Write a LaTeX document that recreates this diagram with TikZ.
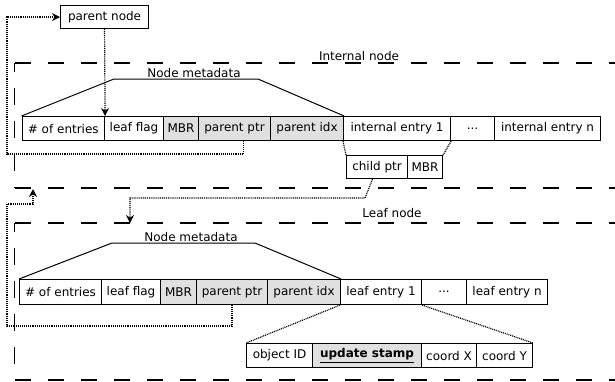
\documentclass[tikz,border=0pt]{standalone}
\usepackage{fontspec}
\setmainfont{DejaVu Sans}
\usetikzlibrary{arrows.meta,calc}
\definecolor{cellgray}{RGB}{224,224,224}
\begin{document}
\begin{tikzpicture}[x=1pt,y=-1pt,
  txt/.style={font=\fontsize{12}{14}\selectfont},
  cell/.style={txt,draw,line width=1.1pt,anchor=north west,inner sep=0pt,minimum height=24pt},
  shaded/.style={cell,fill=cellgray},
  region/.style={line width=1.4pt,dash pattern=on 16.5pt off 16.5pt},
  outline/.style={line width=1pt},
  ptr/.style={line width=1.2pt,dash pattern=on 1pt off 0.9pt,-{Stealth[length=8pt,width=8pt]}},
  expand/.style={line width=1.2pt,dash pattern=on 1pt off 0.9pt}]
\useasboundingbox (0,0) rectangle (615,381);

% dashed region outlines
\draw[region] (14.5,63) -- (625,63);
\draw[region,dash phase=8] (14.5,63) -- (14.5,188);
\draw[region] (14.5,188) -- (625,188);
\draw[region] (14.5,223) -- (625,223);
\draw[region,dash phase=8] (14.5,223) -- (14.5,380);
\draw[region] (14.5,380) -- (625,380);
\node[txt,anchor=base] (intlabel) at (359,60) {Internal node};
\node[txt,anchor=base] (leaflabel) at (392,217) {Leaf node};

% parent node
\node[cell,minimum width=88pt,minimum height=23pt] (pn) at (60,5) {parent node};

% internal node layout
\node[cell,minimum width=82.5pt] (n1) at (21.5,116) {\# of entries};
\node[cell,minimum width=59pt] (n2) at (104,116) {leaf flag};
\node[shaded,minimum width=35pt] (n3) at (163,116) {MBR};
\node[shaded,minimum width=72pt] (n4) at (198,116) {parent ptr};
\node[shaded,minimum width=73pt] (n5) at (270,116) {parent idx};
\node[cell,minimum width=107pt] (n6) at (343,116) {internal entry 1};
\node[cell,minimum width=44pt] (n7) at (450,116) {...};
\node[cell,minimum width=106pt] (n8) at (494,116) {internal entry n};

\draw[outline] (n1.north west) -- (114,79) -- (258,79) -- (n5.north east);
\node[txt,anchor=base] (meta1) at (194,77) {Node metadata};

% internal entry layout
\node[cell,minimum width=61pt,minimum height=23pt] (c1) at (346,155) {child ptr};
\node[cell,minimum width=35pt,minimum height=23pt] (c2) at (407,155) {MBR};
\draw[expand] (n6.south west) -- (c1.north west);
\draw[expand] (n6.south east) -- (c2.north east);

% leaf node layout
\node[cell,minimum width=82pt,minimum height=25pt] (l1) at (19,279) {\# of entries};
\node[cell,minimum width=59pt,minimum height=25pt] (l2) at (101,279) {leaf flag};
\node[shaded,minimum width=36pt,minimum height=25pt] (l3) at (160,279) {MBR};
\node[shaded,minimum width=71pt,minimum height=25pt] (l4) at (196,279) {parent ptr};
\node[shaded,minimum width=73pt,minimum height=25pt] (l5) at (267,279) {parent idx};
\node[cell,minimum width=81pt,minimum height=25pt] (l6) at (340,279) {leaf entry 1};
\node[cell,minimum width=45pt,minimum height=25pt] (l7) at (421,279) {...};
\node[cell,minimum width=81pt,minimum height=25pt] (l8) at (466,279) {leaf entry n};

\draw[outline] (l1.north west) -- (112,243) -- (255,243) -- (l5.north east);
\node[txt,anchor=base] (meta2) at (191,241) {Node metadata};

% leaf entry layout
\node[cell,minimum width=66pt] (o1) at (246,343) {object ID};
\node[shaded,minimum width=109pt] (o2) at (312,343) {\underline{\textbf{update stamp}}};
\node[cell,minimum width=55pt] (o3) at (421,343) {coord X};
\node[cell,minimum width=56pt] (o4) at (476,343) {coord Y};
\draw[expand] (l6.south west) -- (o1.north west);
\draw[expand] (l6.south east) -- (o4.north east);

% pointers
\coordinate (ipp) at ([xshift=9pt]n4.south);
\coordinate (cpp) at ([xshift=-4.5pt]c1.south);
\coordinate (cbend) at (365,198);
\coordinate (leaftop) at (130,223);
\coordinate (intbottom) at (33,189);

\draw[ptr] (pn.south) -- (n1.north east);
\draw[ptr] (ipp) |- (7,154) |- (pn.west);
\draw[ptr] (cpp) -- (cbend) -| (leaftop);
\draw[ptr] (l4.south) |- (7,326) |- (intbottom |- 0,204) -- (intbottom);
\end{tikzpicture}
\end{document}
